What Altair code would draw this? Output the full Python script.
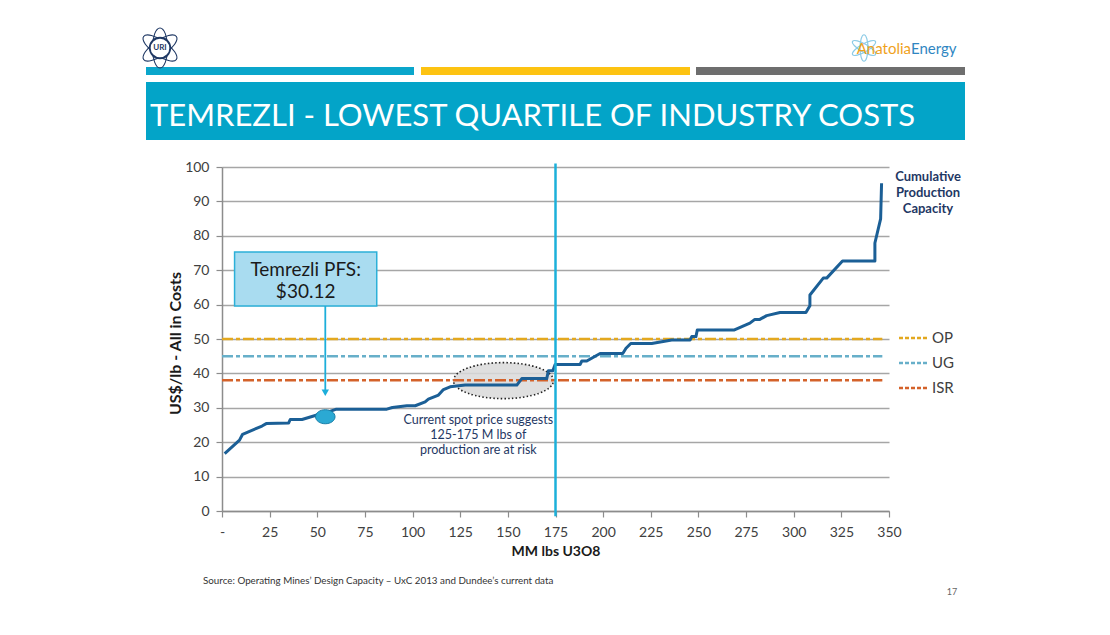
import altair as alt
import pandas as pd

# ---------------- data ----------------
cum_lbs = [1.4, 9.2, 10.8, 21.0, 23.2, 35.0, 35.8, 42.0, 49.8, 56.0, 60.0, 86.5, 89.4, 97.0,
           101.4, 106.6, 108.3, 113.6, 116.2, 119.7, 127.6, 154.7, 157.3, 170.4, 171.3, 173.6,
           174.8, 187.9, 188.8, 191.4, 198.4, 210.3, 212.0, 214.5, 225.5, 236.0, 245.6, 246.5,
           248.7, 249.4, 268.6, 277.0, 279.6, 282.2, 285.8, 292.8, 306.4, 308.5, 308.5, 315.5,
           317.3, 325.6, 342.6, 342.6, 345.6, 346.1]
cost_usd = [16.7, 20.6, 22.3, 24.7, 25.4, 25.6, 26.6, 26.6, 27.9, 28.8, 29.6, 29.6, 30.1, 30.6,
            30.6, 31.7, 32.5, 33.7, 35.3, 36.1, 36.6, 36.6, 38.5, 38.5, 40.8, 40.8,
            42.6, 42.6, 43.6, 43.6, 45.8, 45.8, 47.3, 48.7, 48.7, 49.7, 49.7, 50.7,
            50.7, 52.6, 52.6, 54.6, 55.7, 55.7, 56.8, 57.7, 57.7, 59.7, 62.8, 67.7,
            67.7, 72.7, 72.7, 77.9, 84.9, 95.3]

ref_names = ["OP", "UG", "ISR"]
ref_costs = [50, 45, 38]
ref_colors = ["#E3A81F", "#67AFC9", "#D4622A"]
ref_x_range = [0, 346.5]

spot_x = [175]
pfs_point = [54.2, 27.4]
pfs_box_x = [6.6, 81.2]
pfs_box_y = [59.6, 75.3]
pfs_box_lines = ["Temrezli PFS:", "$30.12"]
pfs_text_y = 70.1
pfs_arrow_y = [59.6, 33.5]

risk_center = [147.7, 37.9]
risk_lines = ["Current spot price suggests", "125-175 M lbs of", "production are at risk"]
risk_text_pos = [134.5, 26.4]

x_ticks = list(range(0, 351, 25))
x_tick_labels = ["-"] + [str(v) for v in x_ticks[1:]]
y_ticks = list(range(0, 101, 10))

title_text = "TEMREZLI - LOWEST QUARTILE OF INDUSTRY COSTS"
series_label = ["Cumulative", "Production", "Capacity"]
source_text = "Source:    Operating Mines\u2019 Design Capacity \u2013 UxC 2013 and Dundee\u2019s current data"
page_no = "17"

FONT = "Lato"
NAVY = "#1F3864"

# ---------------- helpers ----------------
one = pd.DataFrame({"d": [0]})
XS = alt.Scale(domain=[0, 350], nice=False, zero=False)
YS = alt.Scale(domain=[0, 100], nice=False)

label_expr = "[" + ",".join(f"'{l}'" for l in x_tick_labels) + "][round(datum.value/25)]"

x_axis = alt.Axis(values=x_ticks, labelExpr=label_expr, title="MM lbs U3O8",
                  grid=False, domainColor="#8C8C8C", domainWidth=1.5,
                  tickColor="#8C8C8C", tickSize=6, tickWidth=1.2,
                  labelFont=FONT, labelFontSize=14, labelColor="#404040",
                  labelPadding=8, labelFlush=False, labelOverlap=False,
                  titleFont=FONT, titleFontSize=14,
                  titleFontWeight="bold", titleColor="#1a1a1a",
                  titleBaseline="middle", titleY=40)
y_axis = alt.Axis(values=y_ticks, title="US$/lb - All in Costs", grid=True,
                  gridColor="#A6A6A6", gridWidth=1.5,
                  domainColor="#8C8C8C", domainWidth=1.5,
                  tickColor="#8C8C8C", tickSize=6, tickWidth=1.2,
                  labelFont=FONT, labelFontSize=14, labelColor="#404040",
                  labelPadding=7, labelFlush=False, titleFont=FONT, titleFontSize=16,
                  titleFontWeight="bold", titleColor="#1a1a1a",
                  titleAngle=270, titleAlign="center", titleBaseline="middle",
                  titleX=-47, titleY=176)


def X(field):
    return alt.X(field, scale=XS, axis=x_axis, title="MM lbs U3O8")


def Y(field):
    return alt.Y(field, scale=YS, axis=y_axis, title="US$/lb - All in Costs")


def deco_rect(x0, x1, y0, y1, color):
    return alt.Chart(one).mark_rect(color=color).encode(
        x=alt.value(x0), x2=alt.value(x1), y=alt.value(y0), y2=alt.value(y1))


def deco_text(txt, x, y, **kw):
    return alt.Chart(one).mark_text(font=FONT, **kw).encode(
        x=alt.value(x), y=alt.value(y), text=alt.value(txt))


def ellipse_path(ratio):
    return (f"M -1 0 A 1 {ratio} 0 1 1 1 0 A 1 {ratio} 0 1 1 -1 0 Z")


# ---------------- main chart layers ----------------
curve_df = pd.DataFrame({"i": range(len(cum_lbs)), "lbs": cum_lbs, "cost": cost_usd})

risk_df = pd.DataFrame({"x": [risk_center[0]], "y": [risk_center[1]]})
risk_ellipse = alt.Chart(risk_df).mark_point(
    shape=ellipse_path(0.36), size=10000, filled=True, fill="#D9D9D9", fillOpacity=0.85,
    stroke="#222222", strokeWidth=1.6, strokeDash=[1.5, 2.2], opacity=1
).encode(x=X("x:Q"), y=Y("y:Q"))

ref_df = pd.DataFrame({"name": ref_names, "cost": ref_costs, "color": ref_colors,
                       "x0": ref_x_range[0], "x1": ref_x_range[1]})
ref_lines = alt.Chart(ref_df).mark_rule(strokeWidth=2.5, strokeDash=[11, 3, 4, 3]).encode(
    x=X("x0:Q"), x2="x1:Q", y=Y("cost:Q"),
    color=alt.Color("color:N", scale=None, legend=None))

curve = alt.Chart(curve_df).mark_line(color="#1B5F96", strokeWidth=3, strokeJoin="round").encode(
    x=X("lbs:Q"), y=Y("cost:Q"), order="i:Q")

spot_df = pd.DataFrame({"x": spot_x, "y0": [-1.5], "y1": [101]})
spot_line = alt.Chart(spot_df).mark_rule(color="#1CB0DA", strokeWidth=2.5).encode(
    x=X("x:Q"), y=Y("y0:Q"), y2="y1:Q")

pfs_df = pd.DataFrame({"x": [pfs_point[0]], "y": [pfs_point[1]]})
pfs_marker = alt.Chart(pfs_df).mark_point(
    shape=ellipse_path(0.72), size=380, filled=True, fill="#2BA9D3", stroke="#1A7FA8",
    strokeWidth=1, opacity=1
).encode(x=X("x:Q"), y=Y("y:Q"))

box_df = pd.DataFrame({"x0": [pfs_box_x[0]], "x1": [pfs_box_x[1]],
                       "y0": [pfs_box_y[0]], "y1": [pfs_box_y[1]]})
pfs_box = alt.Chart(box_df).mark_rect(fill="#A9DCF0", stroke="#2CB0D8", strokeWidth=1.5).encode(
    x=X("x0:Q"), x2="x1:Q", y=Y("y0:Q"), y2="y1:Q")

box_text_df = pd.DataFrame({"x": [sum(pfs_box_x) / 2], "y": [pfs_text_y],
                            "t": ["\n".join(pfs_box_lines)]})
pfs_text = alt.Chart(box_text_df).mark_text(
    font=FONT, fontSize=19, color="#1a1a1a", lineBreak="\n", lineHeight=22, baseline="middle"
).encode(x=X("x:Q"), y=Y("y:Q"), text="t:N")

arrow_df = pd.DataFrame({"x": [pfs_point[0]], "y0": [pfs_arrow_y[0]], "y1": [pfs_arrow_y[1] + 1.5]})
arrow_shaft = alt.Chart(arrow_df).mark_rule(color="#1DAEDA", strokeWidth=1.8).encode(
    x=X("x:Q"), y=Y("y0:Q"), y2="y1:Q")
arrow_head_df = pd.DataFrame({"x": [pfs_point[0]], "y": [pfs_arrow_y[1] + 0.9]})
arrow_head = alt.Chart(arrow_head_df).mark_point(
    shape="triangle-down", size=55, filled=True, color="#1DAEDA", opacity=1
).encode(x=X("x:Q"), y=Y("y:Q"))

risk_text_df = pd.DataFrame({"x": [risk_text_pos[0]], "y": [risk_text_pos[1]],
                             "t": ["\n".join(risk_lines)]})
risk_text = alt.Chart(risk_text_df).mark_text(
    font=FONT, fontSize=12.5, color=NAVY, lineBreak="\n", lineHeight=15, baseline="middle"
).encode(x=X("x:Q"), y=Y("y:Q"), text="t:N")

# legend (manual, outside the plot)
leg_y = [171, 196, 221]
legend_layers = []
for n, c, yy in zip(ref_names, ref_colors, leg_y):
    legend_layers.append(
        alt.Chart(one).mark_rule(strokeWidth=2.5, strokeDash=[4, 2], color=c).encode(
            x=alt.value(677), x2=alt.value(707), y=alt.value(yy)))
    legend_layers.append(deco_text(n, 710, yy, fontSize=15, color="#404040", align="left",
                                   baseline="middle"))

series_text = deco_text("\n".join(series_label), 706, 10, fontSize=13, fontWeight="bold",
                        color=NAVY, lineBreak="\n", lineHeight=16, align="center",
                        baseline="middle")

# ---------------- slide decorations ----------------
bar1 = deco_rect(-76, 192, -100, -92, "#0AA6CB")
bar2 = deco_rect(199, 468, -100, -92, "#FDC312")
bar3 = deco_rect(474, 743, -100, -92, "#6E6E6E")
banner = deco_rect(-76, 743, -85, -27, "#03A4C8")
title = deco_text(title_text, -72, -41, fontSize=31, color="white", align="left",
                  baseline="alphabetic")

# URI logo
orbit_df = pd.DataFrame({"a": [35, -35, 90]})
uri_orbits = alt.Chart(orbit_df).mark_point(
    shape=ellipse_path(0.38), size=1600, filled=False, stroke=NAVY, strokeWidth=1.1, opacity=1
).encode(x=alt.value(-62), y=alt.value(-119), angle=alt.Angle("a:Q", scale=None))
uri_circle = alt.Chart(one).mark_point(
    shape="circle", size=420, filled=True, fill="white", stroke=NAVY, strokeWidth=1.8, opacity=1
).encode(x=alt.value(-62), y=alt.value(-119))
uri_text = deco_text("URI", -62, -119, fontSize=8, fontWeight="bold", color=NAVY,
                     align="center", baseline="middle")

# Anatolia Energy logo
atom_df = pd.DataFrame({"a": [30, -30, 90]})
atom = alt.Chart(atom_df).mark_point(
    shape=ellipse_path(0.3), size=700, filled=False, stroke="#8CCBE6", strokeWidth=1.2, opacity=1
).encode(x=alt.value(642), y=alt.value(-119), angle=alt.Angle("a:Q", scale=None))
logo_a = deco_text("Anatolia", 689, -118, fontSize=15, color="#F0A21C", align="right",
                   baseline="middle")
logo_e = deco_text("Energy", 689, -118, fontSize=15, color="#2F86C2", align="left",
                   baseline="middle")

source = deco_text(source_text, -19, 414, fontSize=9.8, color="#333333", align="left",
                   baseline="middle")
page = deco_text(page_no, 730, 425, fontSize=9, color="#666666", align="center",
                 baseline="middle")

chart = alt.layer(
    risk_ellipse, ref_lines, curve, spot_line, pfs_marker,
    pfs_box, pfs_text, arrow_shaft, arrow_head, risk_text,
    *legend_layers, series_text,
    bar1, bar2, bar3, banner, title,
    uri_orbits, uri_circle, uri_text, atom, logo_a, logo_e, source, page,
).properties(
    width=667, height=344,
    autosize=alt.AutoSizeParams(type="none"),
    padding={"left": 214, "top": 159, "right": 205, "bottom": 110},
    background="white",
).configure_view(stroke=None)

chart.save("out.html", embed_options={"renderer": "svg", "actions": False})
